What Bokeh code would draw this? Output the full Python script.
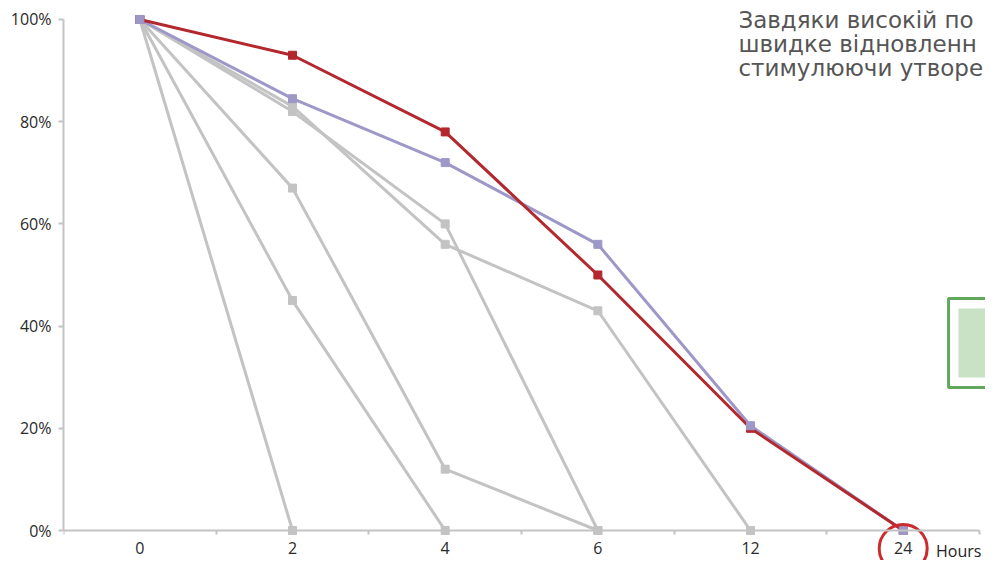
from bokeh.plotting import figure
from bokeh.models import Range1d, FixedTicker, BoxAnnotation, Label
from bokeh.core.properties import value
from bokeh.embed import file_html
from bokeh.resources import INLINE

# ---------------- data ----------------
hours = ["0", "2", "4", "6", "12", "24"]
red_series = [100, 93, 78, 50, 20, 0]
purple_series = [100, 84.5, 72, 56, 20.5, 0]
grey_a = [100, 0]
grey_b = [100, 45, 0]
grey_c = [100, 67, 12, 0]
grey_d = [100, 82, 60, 0]
grey_e = [100, 83, 56, 43, 0]
y_ticks = [0, 20, 40, 60, 80, 100]
y_tick_labels = ["0%", "20%", "40%", "60%", "80%", "100%"]
x_title = "Hours"
note_lines = ["Завдяки високій по", "швидке відновленн", "стимулюючи утворе"]
highlight_hour = "24"

# ---------------- layout ----------------
W, H = 985, 560
X_LO, X_HI = -0.5, 5.539
Y_LO, Y_HI = -5.87, 102.15

GREY = "#c3c3c3"
RED = "#b3282d"
PURPLE = "#9d98c8"
FONT = "Open Sans"

p = figure(width=W, height=H, x_range=Range1d(X_LO, X_HI), y_range=Range1d(Y_LO, Y_HI),
           output_backend="svg", toolbar_location=None,
           min_border_left=63, min_border_right=0, min_border_top=8, min_border_bottom=0)
p.outline_line_color = None
p.grid.visible = False
p.background_fill_color = "white"

# x axis
xa = p.xaxis[0]
xa.fixed_location = 0
xa.bounds = (-0.5, len(hours) - 0.5)
xa.ticker = FixedTicker(ticks=list(range(len(hours))),
                        minor_ticks=[i - 0.5 for i in range(len(hours) + 1)])
xa.major_label_overrides = {i: h for i, h in enumerate(hours)}
xa.major_tick_line_color = None
xa.minor_tick_in = 0
xa.minor_tick_out = 4
xa.minor_tick_line_color = GREY
xa.minor_tick_line_width = 2
xa.axis_line_color = GREY
xa.axis_line_width = 2
xa.major_label_text_font = FONT
xa.major_label_text_font_size = "16px"
xa.major_label_text_color = "#2a2a2a"
xa.major_label_standoff = 5

# y axis
ya = p.yaxis[0]
ya.bounds = (0, 100)
ya.ticker = FixedTicker(ticks=y_ticks, minor_ticks=[])
ya.major_label_overrides = {t: l for t, l in zip(y_ticks, y_tick_labels)}
ya.major_tick_in = 0
ya.major_tick_out = 5
ya.major_tick_line_color = GREY
ya.major_tick_line_width = 2
ya.axis_line_color = GREY
ya.axis_line_width = 2
ya.major_label_text_font = FONT
ya.major_label_text_font_size = "16px"
ya.major_label_text_color = "#2a2a2a"
ya.major_label_standoff = 7

# grey series
for s in [grey_a, grey_b, grey_c, grey_d, grey_e]:
    xs = list(range(len(s)))
    p.line(xs, s, line_color=GREY, line_width=3)
    p.scatter(xs, s, marker="square", size=8, color=GREY)

xs_all = list(range(len(hours)))
p.line(xs_all, purple_series, line_color=PURPLE, line_width=3)
p.line(xs_all, red_series, line_color=RED, line_width=3)
p.scatter(xs_all, red_series, marker="square", size=8, color=RED)
p.scatter(xs_all, purple_series, marker="square", size=8, color=PURPLE)

# highlight circle around "24"
p.scatter([hours.index(highlight_hour)], [-3.52], marker="circle", size=48,
          fill_color=None, line_color="#cc2a2e", line_width=3)

# x title (kept fully inside the canvas)
p.add_layout(Label(x=5.215, y=-4.1, text=x_title, text_font=FONT, text_font_size="16px",
                   text_color="#222222", text_baseline="alphabetic"))

# note text (top right)
p.text(x=[3.921] * 3, y=[99.9, 95.3, 90.6], text=note_lines,
       text_font=value("DejaVu Sans"), text_font_size="23px", text_color="#555555",
       text_baseline="alphabetic", text_align="left")

# green box
p.add_layout(BoxAnnotation(left=5.297, right=6.5, top=45.4, bottom=27.98,
                           fill_color=None, line_color="#62a85c", line_alpha=1, line_width=3))
p.add_layout(BoxAnnotation(left=5.362, right=6.5, top=43.44, bottom=29.94,
                           fill_color="#c8e2c5", fill_alpha=1, line_color=None))

open("out.html", "w").write(file_html(p, INLINE))
